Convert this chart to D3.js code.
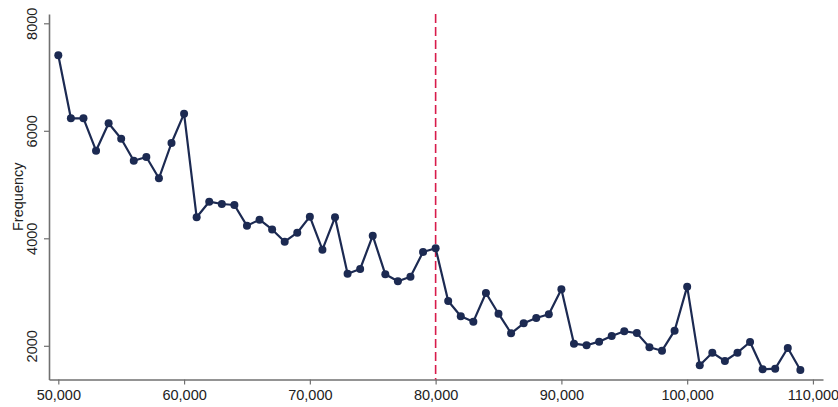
<!DOCTYPE html>
<html>
<head>
<meta charset="utf-8">
<script src="https://cdn.jsdelivr.net/npm/d3@7"></script>
<style>
  html, body { margin: 0; padding: 0; background: #fff; }
  svg { display: block; }
  text { font-family: "Liberation Sans", Arial, Helvetica, sans-serif; fill: #222; }
</style>
</head>
<body>
<svg id="chart" width="838" height="407"></svg>
<script>
// Income bins (lower edge of each 1,000-wide bin)
const bins = d3.range(50000, 110000, 1000);
// Number of observations in each bin
const frequency = [
  7405, 6233, 6233, 5630, 6140, 5853, 5444, 5513, 5116, 5773,
  6319, 4391, 4681, 4638, 4619, 4232, 4347, 4164, 3937, 4104,
  4402, 3788, 4391, 3341, 3429, 4049, 3330, 3200, 3286, 3745,
  3814, 2833, 2549, 2449, 2982, 2597, 2233, 2419, 2517, 2586,
  3051, 2039, 2009, 2077, 2182, 2270, 2236, 1972, 1909, 2281,
  3100, 1637, 1872, 1717, 1872, 2071, 1563, 1574, 1959, 1550
];
const xTicks = [50000, 60000, 70000, 80000, 90000, 100000, 110000];
const yTicks = [2000, 4000, 6000, 8000];
const threshold = 80000;
const yTitle = "Frequency";

const svg = d3.select("#chart");
const plotLeft = 49, plotRight = 823, plotTop = 14, plotBottom = 379.5;

const x = d3.scaleLinear().domain([49260, 110800]).range([plotLeft, plotRight]);
const y = d3.scaleLinear().domain([1373, 8173]).range([plotBottom, plotTop]);

const axisColor = "#707070";
const fmt = d3.format(",");

// x axis
const gx = svg.append("g").attr("transform", `translate(0,${plotBottom})`)
  .call(d3.axisBottom(x).tickValues(xTicks).tickFormat(fmt).tickSize(5).tickSizeOuter(0).tickPadding(5));
gx.select(".domain").attr("stroke", axisColor).attr("stroke-width", 1.6);
gx.selectAll(".tick line").attr("stroke", axisColor).attr("stroke-width", 1.2);
gx.selectAll(".tick text").attr("font-size", 14.5).style("font-family", '"Liberation Sans", Arial, sans-serif').attr("fill", "#222");

// y axis with rotated labels
const gy = svg.append("g").attr("transform", `translate(${plotLeft},0)`)
  .call(d3.axisLeft(y).tickValues(yTicks).tickFormat(d3.format("d")).tickSize(5).tickSizeOuter(0));
gy.select(".domain").attr("stroke", axisColor).attr("stroke-width", 1.6);
gy.selectAll(".tick line").attr("stroke", axisColor).attr("stroke-width", 1.2);
gy.selectAll(".tick text")
  .attr("font-size", 14.5)
  .style("font-family", '"Liberation Sans", Arial, sans-serif')
  .attr("fill", "#222")
  .attr("x", 0).attr("y", 0).attr("dy", 0)
  .attr("text-anchor", "middle")
  .attr("transform", "translate(-12,0) rotate(-90)");

// y axis title
svg.append("text")
  .attr("transform", `translate(22.5,${(plotTop + plotBottom) / 2}) rotate(-90)`)
  .attr("text-anchor", "middle")
  .attr("font-size", 14.5)
  .text(yTitle);

// threshold marker
svg.append("line")
  .attr("x1", x(threshold)).attr("x2", x(threshold))
  .attr("y1", plotTop).attr("y2", plotBottom)
  .attr("stroke", "#d81b4b").attr("stroke-width", 1.6)
  .attr("stroke-dasharray", "9,4");

// connected frequency series
const data = bins.map((b, i) => ({ b, v: frequency[i] }));
const navy = "#1c2a52";
svg.append("path")
  .datum(data)
  .attr("fill", "none")
  .attr("stroke", navy)
  .attr("stroke-width", 2.2)
  .attr("stroke-linejoin", "round")
  .attr("d", d3.line().x(d => x(d.b)).y(d => y(d.v)));

svg.append("g").selectAll("circle")
  .data(data).join("circle")
  .attr("cx", d => x(d.b)).attr("cy", d => y(d.v))
  .attr("r", 4).attr("fill", navy);
</script>
</body>
</html>
